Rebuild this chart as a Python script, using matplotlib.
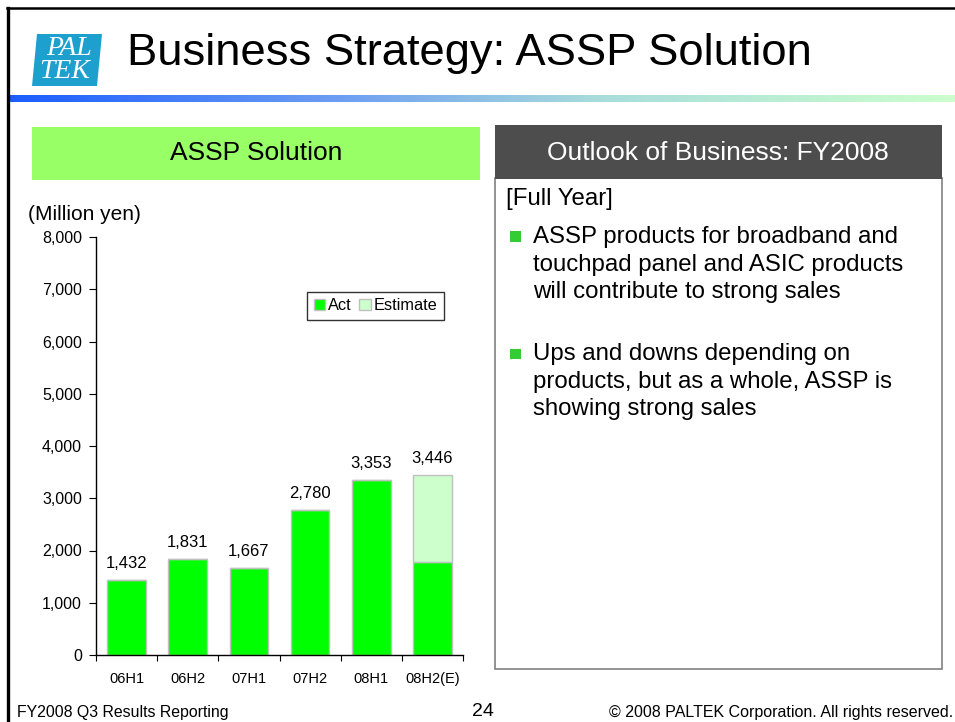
import matplotlib
matplotlib.use("Agg")
import matplotlib.pyplot as plt
import numpy as np
from matplotlib.patches import Rectangle, Polygon, Patch
from matplotlib.colors import LinearSegmentedColormap

plt.rcParams['font.family'] = ['Liberation Sans', 'DejaVu Sans']

# ---- data ----
categories = ["06H1", "06H2", "07H1", "07H2", "08H1", "08H2(E)"]
act_values = [1432, 1831, 1667, 2780, 3353, 1780]
estimate_values = [0, 0, 0, 0, 0, 1666]
yticks = [0, 1000, 2000, 3000, 4000, 5000, 6000, 7000, 8000]

title = "Business Strategy: ASSP Solution"
left_header = "ASSP Solution"
right_header = "Outlook of Business: FY2008"
full_year = "[Full Year]"
bullets = [
    ["ASSP products for broadband and", "touchpad panel and ASIC products", "will contribute to strong sales"],
    ["Ups and downs depending on", "products, but as a whole, ASSP is", "showing strong sales"],
]
footer_left = "FY2008 Q3 Results Reporting"
footer_mid = "24"
footer_right = "\u00a9 2008 PALTEK Corporation. All rights reserved."

W, H = 955, 722
fig = plt.figure(figsize=(W / 100, H / 100), dpi=100)


def fx(x):
    return x / W


def fy(y):
    return 1 - y / H


# ---- frame ----
fig.add_artist(plt.Line2D([fx(7.5), fx(7.5)], [fy(8), fy(722)], color="black", lw=2.4, transform=fig.transFigure))
fig.add_artist(plt.Line2D([fx(6.5), fx(955)], [fy(8), fy(8)], color="black", lw=1.8, transform=fig.transFigure))

# ---- logo ----
fig.add_artist(Polygon([(fx(37), fy(34)), (fx(102), fy(34)), (fx(97), fy(86)), (fx(32), fy(86))],
                       closed=True, facecolor="#1ea0cf", edgecolor="none", transform=fig.transFigure))
fig.text(fx(69), fy(48.5), "PAL", color="white", fontsize=20, family="Liberation Serif", style="italic",
         ha="center", va="center")
fig.text(fx(65), fy(72), "TEK", color="white", fontsize=20, family="Liberation Serif", style="italic",
         ha="center", va="center")

# ---- title ----
fig.text(fx(127), fy(53), title, fontsize=32.7, ha="left", va="center", color="black")

# ---- gradient line ----
gax = fig.add_axes([fx(7), fy(102), fx(955) - fx(7), (102 - 95) / H])
cmap = LinearSegmentedColormap.from_list("g", [(0.0, "#1a5cff"), (0.35, "#6e9ef2"),
                                               (0.62, "#a8dcdc"), (1.0, "#ccffcc")])
gax.imshow(np.linspace(0, 1, 512)[None, :], aspect="auto", cmap=cmap, extent=[0, 1, 0, 1])
gax.axis("off")

# ---- left header ----
fig.add_artist(Rectangle((fx(32), fy(180)), fx(480) - fx(32), (180 - 127) / H,
                         facecolor="#99ff66", edgecolor="none", transform=fig.transFigure))
fig.text(fx(256), fy(153.5), left_header, fontsize=19, ha="center", va="center", color="black")

# ---- right panel ----
fig.add_artist(Rectangle((fx(495), fy(669)), fx(942) - fx(495), (669 - 178) / H,
                         facecolor="white", edgecolor="#808080", lw=1.2, transform=fig.transFigure))
fig.add_artist(Rectangle((fx(495), fy(179)), fx(942) - fx(495), (179 - 125) / H,
                         facecolor="#4d4d4d", edgecolor="none", transform=fig.transFigure))
fig.text(fx(718), fy(152.5), right_header, fontsize=19, ha="center", va="center", color="white")
fig.text(fx(506), fy(199), full_year, fontsize=17.3, ha="left", va="center", color="black")

bullet_y0 = [237, 354]
for b, lines in enumerate(bullets):
    y0 = bullet_y0[b]
    fig.add_artist(Rectangle((fx(510), fy(y0 + 5)), 10.5 / W, 10.5 / H,
                             facecolor="#33cc33", edgecolor="none", transform=fig.transFigure))
    for i, line in enumerate(lines):
        fig.text(fx(533), fy(y0 + i * 27.7), line, fontsize=17.3, ha="left", va="center", color="black")

# ---- chart ----
ax = fig.add_axes([fx(96), fy(655), fx(463) - fx(96), (655 - 237) / H])
x = np.arange(len(categories))
bw = 0.63
b1 = ax.bar(x, act_values, width=bw, color="#00ff00", edgecolor="#c0c0c0", lw=1, label="Act", zorder=2)
b2 = ax.bar(x, estimate_values, width=bw, bottom=act_values, color="#ccffcc", edgecolor="#c0c0c0", lw=1,
            label="Estimate", zorder=2)
totals = [a + e for a, e in zip(act_values, estimate_values)]
ax.bar_label(b2, labels=[f"{t:,}" for t in totals], padding=6.5, fontsize=12)

ax.set_xlim(-0.5, len(categories) - 0.5)
ax.set_ylim(0, 8000)
ax.set_yticks(yticks)
ax.set_yticklabels([f"{v:,}" for v in yticks], fontsize=11.5)
ax.set_xticks(np.arange(len(categories) + 1) - 0.5)
ax.set_xticklabels([])
ax.set_xticks(x, minor=True)
ax.set_xticklabels(categories, minor=True, fontsize=10.5)
ax.tick_params(axis="x", which="major", length=4, direction="out", color="black")
ax.tick_params(axis="x", which="minor", length=0, pad=12)
ax.tick_params(axis="y", length=5, direction="out", pad=5)
for s in ["top", "right"]:
    ax.spines[s].set_visible(False)
ax.spines["left"].set_linewidth(1)
ax.spines["bottom"].set_linewidth(1)
ax.set_facecolor("none")

handles = [Patch(facecolor="#00ff00", edgecolor="#c0c0c0", label="Act"),
           Patch(facecolor="#ccffcc", edgecolor="#c0c0c0", label="Estimate")]
leg = ax.legend(handles=handles, ncol=2, loc="upper left", bbox_to_anchor=(0.575, 0.869),
                fontsize=11.8, frameon=True, fancybox=False, edgecolor="black", handlelength=0.7,
                handleheight=0.7, handletextpad=0.2, columnspacing=0.45, borderpad=0.4,
                borderaxespad=0)
leg.get_frame().set_linewidth(1)

fig.text(fx(28), fy(215), "(Million yen)", fontsize=15, ha="left", va="center")

# ---- footer ----
fig.text(fx(17), fy(712), footer_left, fontsize=11.4, ha="left", va="center")
fig.text(fx(483), fy(711), footer_mid, fontsize=14, ha="center", va="center")
fig.text(fx(953), fy(712), footer_right, fontsize=11.5, ha="right", va="center")

fig.savefig("out.png", dpi=100)
